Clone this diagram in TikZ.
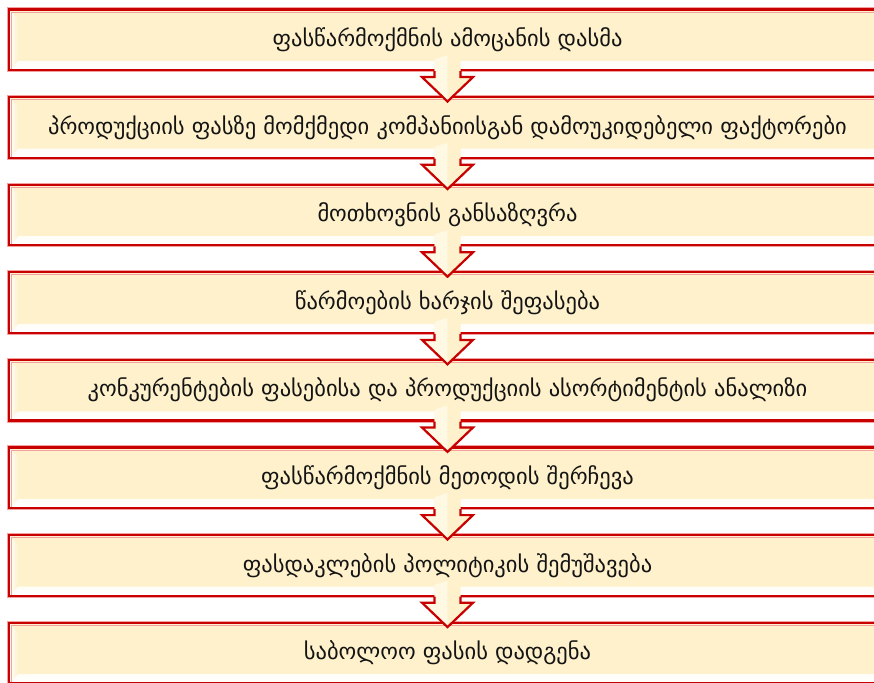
\documentclass[tikz,border=0pt]{standalone}
\usepackage{fontspec}
\setmainfont{DejaVu Sans}
\usetikzlibrary{calc}
\definecolor{boxred}{HTML}{C80000}
\definecolor{halo}{HTML}{F2A0A0}
\definecolor{boxfill}{HTML}{FEF1CB}
\definecolor{arrlight}{HTML}{FFF8E2}
\definecolor{txt}{HTML}{141414}
\tikzset{
  box/.style={draw=boxred, line width=2.2pt, fill=boxfill,
    preaction={draw=halo, line width=4.2pt},
    minimum width=877pt, minimum height=60.5pt, inner sep=0pt,
    font=\fontsize{22.5}{26}\selectfont, text=txt,
    path picture={
      \shade[top color=boxfill, bottom color=white]
        (path picture bounding box.south west) -- (path picture bounding box.south east)
        -- ([shift={(-9pt,9pt)}]path picture bounding box.south east)
        -- ([shift={(9pt,9pt)}]path picture bounding box.south west) -- cycle;
      \shade[left color=white, right color=boxfill]
        (path picture bounding box.south west) -- ([shift={(9pt,9pt)}]path picture bounding box.south west)
        -- ([shift={(9pt,-9pt)}]path picture bounding box.north west)
        -- (path picture bounding box.north west) -- cycle;
      \draw[halo, line width=1pt]
        ([shift={(2.6pt,-2.6pt)}]path picture bounding box.south west)
        -- ([shift={(2.6pt,-2.6pt)}]path picture bounding box.north west)
        -- ([shift={(-2.6pt,-2.6pt)}]path picture bounding box.north east);
    }},
  arrfill/.style={fill=boxfill},
  arrlit/.style={fill=arrlight},
  arrline/.style={draw=boxred, line width=2.2pt, line join=miter},
}
\newcommand\blkarrow[2]{%
  \path (#1.south) coordinate (s) (#2.north) coordinate (n);
  \fill[arrfill] ([shift={(-13,-12)}]s) -- ([shift={(-13,6)}]s) -- ([shift={(-25.5,6)}]s)
    -- ([shift={(0,5.5)}]n) -- ([shift={(25.5,6)}]s) -- ([shift={(13,6)}]s)
    -- ([shift={(13,-12)}]s) -- ([shift={(0,-16)}]s) -- cycle;
  \fill[arrlit] ([shift={(-13,-12)}]s) -- ([shift={(-13,6)}]s) -- ([shift={(-25.5,6)}]s)
    -- ([shift={(0,5.5)}]n) -- ([shift={(0,-16)}]s) -- cycle;
  \draw[arrline] ([shift={(-13,0)}]s) -- ([shift={(-13,6)}]s) -- ([shift={(-25.5,6)}]s)
    -- ([shift={(0,5.5)}]n) -- ([shift={(25.5,6)}]s) -- ([shift={(13,6)}]s)
    -- ([shift={(13,0)}]s);
}
\begin{document}
\begin{tikzpicture}[x=1pt,y=-1pt]
\useasboundingbox (0,0) rectangle (874,682);
\node[box] (b1) at (447.5,39.75)  {ფასწარმოქმნის ამოცანის დასმა};
\node[box] (b2) at (447.5,127.35) {პროდუქციის ფასზე მომქმედი კომპანიისგან დამოუკიდებელი ფაქტორები};
\node[box] (b3) at (447.5,214.95) {მოთხოვნის განსაზღვრა};
\node[box] (b4) at (447.5,302.55) {წარმოების ხარჯის შეფასება};
\node[box] (b5) at (447.5,390.15) {კონკურენტების ფასებისა და პროდუქციის ასორტიმენტის ანალიზი};
\node[box] (b6) at (447.5,477.75) {ფასწარმოქმნის მეთოდის შერჩევა};
\node[box] (b7) at (447.5,565.35) {ფასდაკლების პოლიტიკის შემუშავება};
\node[box] (b8) at (447.5,652.95) {საბოლოო ფასის დადგენა};
\blkarrow{b1}{b2}
\blkarrow{b2}{b3}
\blkarrow{b3}{b4}
\blkarrow{b4}{b5}
\blkarrow{b5}{b6}
\blkarrow{b6}{b7}
\blkarrow{b7}{b8}
\end{tikzpicture}
\end{document}
